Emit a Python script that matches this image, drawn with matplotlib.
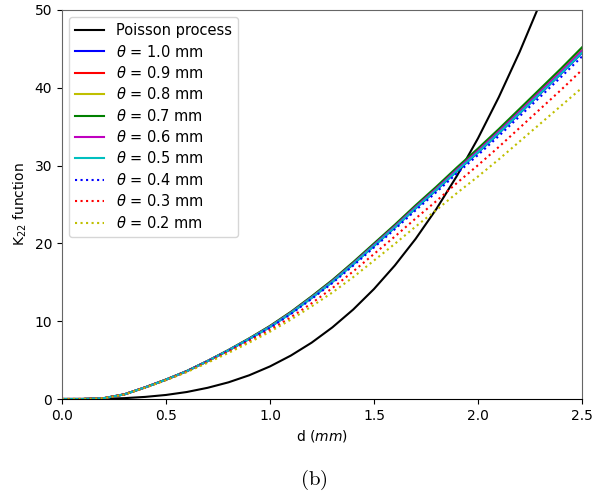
import matplotlib
matplotlib.use("Agg")
import matplotlib.pyplot as plt

d = [0.0, 0.1, 0.2, 0.3, 0.4, 0.5, 0.6, 0.7, 0.8, 0.9, 1.0, 1.1, 1.2,
     1.3, 1.4, 1.5, 1.6, 1.7, 1.8, 1.9, 2.0, 2.1, 2.2, 2.3, 2.4, 2.5]

poisson = [0, 0.004, 0.03, 0.11, 0.27, 0.52, 0.90, 1.44, 2.14, 3.05, 4.19,
           5.58, 7.24, 9.21, 11.5, 14.14, 17.16, 20.58, 24.43, 28.74, 33.51,
           38.80, 44.6, 50.97, 57.9, 65.45]

# theta curves, solid ones
k_10 = [0, 0, 0.1, 0.6, 1.5, 2.49, 3.58, 4.87, 6.25, 7.71, 9.25, 11.02, 12.99,
        15.05, 17.32, 19.68, 22.04, 24.5, 26.86, 29.32, 31.68, 34.14, 36.7,
        39.26, 41.82, 44.48]
k_09 = [0, 0, 0.1, 0.6, 1.5, 2.49, 3.58, 4.88, 6.26, 7.74, 9.31, 11.09, 13.07,
        15.15, 17.42, 19.8, 22.18, 24.65, 27.03, 29.5, 31.88, 34.35, 36.93,
        39.5, 42.08, 44.75]
k_08 = [0, 0, 0.1, 0.6, 1.5, 2.5, 3.59, 4.89, 6.28, 7.77, 9.36, 11.15, 13.14,
        15.23, 17.51, 19.9, 22.29, 24.78, 27.16, 29.65, 32.04, 34.53, 37.11,
        39.7, 42.29, 44.97]
k_07 = [0, 0, 0.1, 0.6, 1.5, 2.5, 3.6, 4.9, 6.3, 7.8, 9.4, 11.2, 13.2,
        15.3, 17.6, 20.0, 22.4, 24.9, 27.3, 29.8, 32.2, 34.7, 37.3,
        39.9, 42.5, 45.2]
k_06 = [0, 0, 0.1, 0.6, 1.5, 2.49, 3.58, 4.88, 6.26, 7.74, 9.32, 11.1, 13.08,
        15.16, 17.44, 19.82, 22.2, 24.68, 27.05, 29.53, 31.91, 34.39, 36.96,
        39.54, 42.12, 44.79]
k_05 = [0, 0, 0.1, 0.6, 1.5, 2.49, 3.58, 4.87, 6.25, 7.72, 9.26, 11.03, 13.01,
        15.07, 17.34, 19.7, 22.06, 24.53, 26.89, 29.35, 31.72, 34.18, 36.74,
        39.3, 41.86, 44.52]
# dotted ones
k_04 = [0, 0, 0.1, 0.6, 1.49, 2.48, 3.56, 4.83, 6.17, 7.62, 9.16, 10.91, 12.86,
        14.9, 17.14, 19.48, 21.82, 24.25, 26.59, 29.03, 31.36, 33.8, 36.33,
        38.86, 41.4, 44.02]
k_03 = [0, 0, 0.1, 0.59, 1.47, 2.45, 3.51, 4.75, 6.08, 7.45, 8.88, 10.5, 12.3,
        14.26, 16.4, 18.64, 20.88, 23.2, 25.45, 27.8, 30.05, 32.4, 34.85,
        37.3, 39.75, 42.3]
k_02 = [0, 0, 0.1, 0.58, 1.46, 2.43, 3.46, 4.66, 5.92, 7.25, 8.65, 10.2, 11.9,
        13.69, 15.66, 17.8, 19.94, 22.16, 24.3, 26.5, 28.6, 30.8, 33.1,
        35.4, 37.7, 40.0]

series = [
    (k_10, "b", "-", r"$\theta$ = 1.0 mm"),
    (k_09, "r", "-", r"$\theta$ = 0.9 mm"),
    (k_08, "y", "-", r"$\theta$ = 0.8 mm"),
    (k_07, "g", "-", r"$\theta$ = 0.7 mm"),
    (k_06, "m", "-", r"$\theta$ = 0.6 mm"),
    (k_05, "c", "-", r"$\theta$ = 0.5 mm"),
    (k_04, "b", ":", r"$\theta$ = 0.4 mm"),
    (k_03, "r", ":", r"$\theta$ = 0.3 mm"),
    (k_02, "y", ":", r"$\theta$ = 0.2 mm"),
]

fig = plt.figure(figsize=(6.05, 4.99), dpi=100)
ax = fig.add_axes([0.1025, 0.2004, 0.8595, 0.7796])

ax.plot(d, poisson, color="k", lw=1.5, label="Poisson process")
for vals, col, ls, lab in series:
    ax.plot(d, vals, color=col, ls=ls, lw=1.5, label=lab)

ax.set_xlim(0, 2.5)
ax.set_ylim(0, 50)
ax.set_xlabel(r"d ($mm$)")
ax.set_ylabel(r"K$_{22}$ function")

for s in ["left", "right", "top"]:
    ax.spines[s].set_color("#666666")
ax.spines["bottom"].set_color("k")

ax.legend(loc="upper left", fontsize=10.5, labelspacing=0.37)

fig.text(0.519, 0.038, r"$\mathrm{(b)}$", ha="center", va="center",
         fontsize=15, math_fontfamily="cm")

fig.savefig("out.png", dpi=100)
